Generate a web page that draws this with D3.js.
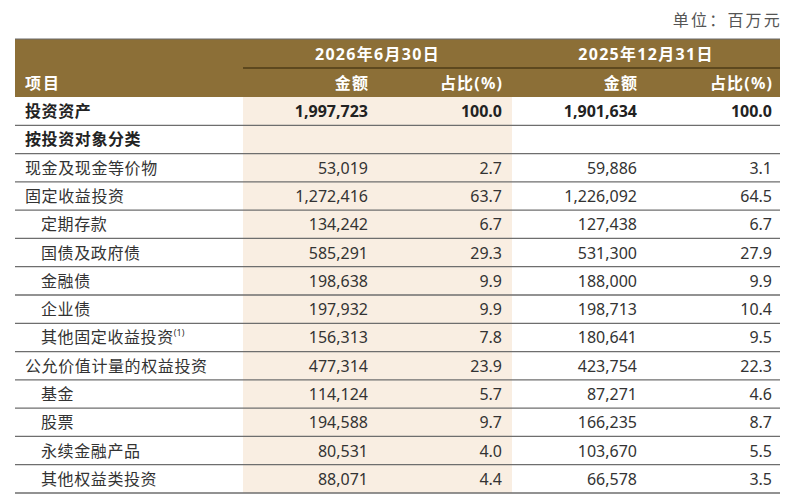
<!DOCTYPE html>
<html lang="zh">
<head>
    <meta charset="UTF-8">
    <title>投资资产</title>
    <script src="https://d3js.org/d3.v7.min.js"></script>
    <style>
        body { margin: 0; background: #fff; }
        text { font-family: "Noto Sans", "Noto Sans CJK SC", sans-serif; }
    </style>
</head>
<body>
    <div id="chart"></div>

    <script>
        // Table data
        const items = ["投资资产", "按投资对象分类", "现金及现金等价物", "固定收益投资", "定期存款",
            "国债及政府债", "金融债", "企业债", "其他固定收益投资", "公允价值计量的权益投资",
            "基金", "股票", "永续金融产品", "其他权益类投资"];
        const levels = [0, 0, 0, 0, 1, 1, 1, 1, 1, 0, 1, 1, 1, 1];
        const boldRows = ["投资资产", "按投资对象分类"];
        const notes = { "其他固定收益投资": "(1)" };
        const amount2026 = [1997723, null, 53019, 1272416, 134242, 585291, 198638, 197932, 156313, 477314, 114124, 194588, 80531, 88071];
        const share2026 = [100.0, null, 2.7, 63.7, 6.7, 29.3, 9.9, 9.9, 7.8, 23.9, 5.7, 9.7, 4.0, 4.4];
        const amount2025 = [1901634, null, 59886, 1226092, 127438, 531300, 188000, 198713, 180641, 423754, 87271, 166235, 103670, 66578];
        const share2025 = [100.0, null, 3.1, 64.5, 6.7, 27.9, 9.9, 10.4, 9.5, 22.3, 4.6, 8.7, 5.5, 3.5];
        const periods = ["2026年6月30日", "2025年12月31日"];
        const colHeads = ["金额", "占比(%)", "金额", "占比(%)"];
        const unitLabel = "单位：百万元";

        const width = 788;
        const height = 498;
        const left = 15, right = 780;
        const headTop = 39, headMid = 68, headBottom = 97, tableBottom = 493;

        const svg = d3.select("#chart")
            .append("svg")
            .attr("width", width)
            .attr("height", height);

        // Scales
        const y = d3.scaleBand()
            .domain(d3.range(items.length))
            .range([headBottom, tableBottom]);

        const colKeys = ["a26", "s26", "a25", "s25"];
        const colRight = d3.scaleOrdinal().domain(colKeys).range([368, 502, 637, 772]);
        const groupX = d3.scaleOrdinal().domain(periods).range([[243, 512], [512, right]]);

        const fmtAmt = d3.format(",");
        const fmtPct = d3.format(".1f");

        const rows = items.map((name, i) => ({
            name, level: levels[i], bold: boldRows.includes(name),
            a26: amount2026[i], s26: share2026[i], a25: amount2025[i], s25: share2025[i]
        }));

        // Unit label
        svg.append("text")
            .attr("x", right + 2)
            .attr("y", 26)
            .attr("text-anchor", "end")
            .attr("font-size", 16)
            .attr("fill", "#555")
            .attr("letter-spacing", 2.2)
            .text(unitLabel);

        // Header band
        svg.append("rect")
            .attr("x", left).attr("y", headTop)
            .attr("width", right - left).attr("height", headBottom - headTop)
            .attr("fill", "#8c6f37");
        svg.append("line")
            .attr("x1", left).attr("x2", right)
            .attr("y1", headTop).attr("y2", headTop)
            .attr("stroke", "#6b6b6b").attr("stroke-width", 1.2);
        svg.append("line")
            .attr("x1", 243).attr("x2", right)
            .attr("y1", headMid).attr("y2", headMid)
            .attr("stroke", "#4e3b17").attr("stroke-width", 1.6);

        // Highlighted current period column
        svg.append("rect")
            .attr("x", 243).attr("y", headBottom)
            .attr("width", 512 - 243).attr("height", tableBottom - headBottom)
            .attr("fill", "#f9eee2");

        // Period titles
        svg.selectAll(".period")
            .data(periods)
            .enter()
            .append("text")
            .attr("x", d => (groupX(d)[0] + groupX(d)[1]) / 2)
            .attr("y", (headTop + headMid) / 2 + 6)
            .attr("text-anchor", "middle")
            .attr("font-size", 16)
            .attr("font-weight", "bold")
            .attr("fill", "#fff")
            .attr("letter-spacing", 1.3)
            .text(d => d);

        // Column titles
        svg.append("text")
            .attr("x", 25)
            .attr("y", (headMid + headBottom) / 2 + 6)
            .attr("font-size", 16)
            .attr("font-weight", "bold")
            .attr("fill", "#fff")
            .attr("letter-spacing", 2)
            .text("项目");
        svg.selectAll(".colhead")
            .data(colHeads)
            .enter()
            .append("text")
            .attr("x", (d, i) => colRight(colKeys[i]) + 1.2)
            .attr("y", (headMid + headBottom) / 2 + 6)
            .attr("text-anchor", "end")
            .attr("font-size", 16)
            .attr("font-weight", "bold")
            .attr("fill", "#fff")
            .attr("letter-spacing", 1.2)
            .text(d => d);

        // Row separators
        svg.selectAll(".sep")
            .data(rows)
            .enter()
            .append("line")
            .attr("x1", left).attr("x2", right)
            .attr("y1", (d, i) => y(i) + y.bandwidth())
            .attr("y2", (d, i) => y(i) + y.bandwidth())
            .attr("stroke", "#6e6e6e")
            .attr("stroke-width", 1.3);

        // Rows
        const row = svg.selectAll(".row")
            .data(rows)
            .enter()
            .append("g")
            .attr("transform", (d, i) => `translate(0,${y(i) + y.bandwidth() / 2 + 6})`)
            .attr("font-size", 16)
            .attr("fill", d => d.bold ? "#222" : "#333")
            .attr("font-weight", d => d.bold ? "bold" : "normal");

        const label = row.append("text")
            .attr("x", d => 25 + d.level * 16)
            .attr("letter-spacing", 0.6);
        label.append("tspan").text(d => d.name);
        label.filter(d => notes[d.name])
            .append("tspan")
            .attr("font-size", 9)
            .attr("dy", -7)
            .attr("letter-spacing", 0)
            .text(d => notes[d.name]);

        colKeys.forEach(k => {
            row.filter(d => d[k] != null)
                .append("text")
                .attr("x", colRight(k))
                .attr("text-anchor", "end")
                .text(d => k[0] === "a" ? fmtAmt(d[k]) : fmtPct(d[k]));
        });
    </script>
</body>
</html>
